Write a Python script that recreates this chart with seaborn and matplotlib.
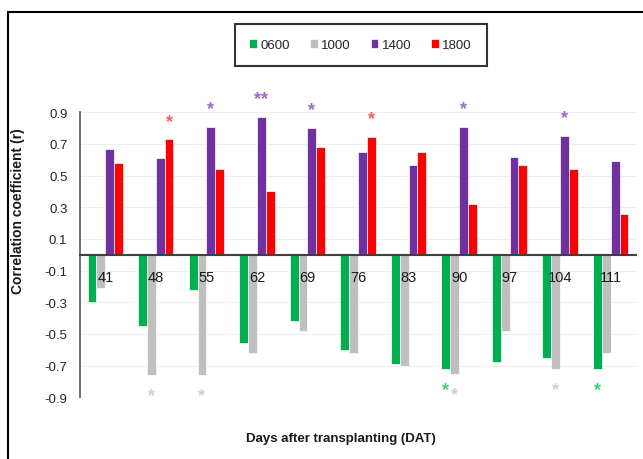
import pandas as pd
import matplotlib.pyplot as plt
import seaborn as sns
from matplotlib.patches import Rectangle

days = ['41', '48', '55', '62', '69', '76', '83', '90', '97', '104', '111']
times = ['0600', '1000', '1400', '1800']
r_0600 = [-0.30, -0.45, -0.22, -0.56, -0.42, -0.60, -0.69, -0.72, -0.68, -0.65, -0.72]
r_1000 = [-0.21, -0.76, -0.76, -0.62, -0.48, -0.62, -0.70, -0.75, -0.48, -0.72, -0.62]
r_1400 = [0.67, 0.61, 0.81, 0.87, 0.80, 0.65, 0.57, 0.81, 0.62, 0.75, 0.59]
r_1800 = [0.58, 0.73, 0.54, 0.40, 0.68, 0.745, 0.65, 0.32, 0.57, 0.54, 0.26]
sig_0600 = ['', '', '', '', '', '', '', '*', '', '', '*']
sig_1000 = ['', '*', '*', '', '', '', '', '*', '', '*', '']
sig_1400 = ['', '', '*', '**', '*', '', '', '*', '', '*', '']
sig_1800 = ['', '*', '', '', '', '*', '', '', '', '', '']
yticks = [0.9, 0.7, 0.5, 0.3, 0.1, -0.1, -0.3, -0.5, -0.7, -0.9]
bar_colors = ['#00B050', '#BFBFBF', '#7030A0', '#FF0000']
star_colors = ['#3CCB7A', '#CFCFCF', '#9A6BCB', '#FF5C5C']

data = pd.DataFrame({'DAT': days, '0600': r_0600, '1000': r_1000, '1400': r_1400, '1800': r_1800})
data = data.melt(id_vars='DAT', var_name='Time', value_name='r')

sns.set_style('white')
plt.rcParams['font.family'] = ['Liberation Sans', 'DejaVu Sans']

fig = plt.figure(figsize=(6.43, 4.6), dpi=100)
ax = fig.add_axes([0.1244, 0.1341, 0.8647, 0.6196])
ax.set_axisbelow('line')

for t in yticks:
    ax.axhline(t, color='#EEEEEE', lw=0.8, zorder=0)

sns.barplot(data=data, x='DAT', y='r', hue='Time', order=days, hue_order=times,
            palette=bar_colors, saturation=1, width=0.7, edgecolor='white',
            linewidth=0.5, errorbar=None, ax=ax)

# significance stars
sigs = [sig_0600, sig_1000, sig_1400, sig_1800]
for cont, sig, col in zip(ax.containers, sigs, star_colors):
    for bar, s in zip(cont, sig):
        if not s:
            continue
        x = bar.get_x() + bar.get_width() / 2
        h = bar.get_height()
        off = 13 if h > 0 else -15
        ax.annotate(s, (x, h), xytext=(0, off), textcoords='offset points',
                    ha='center', va='center', color=col, fontsize=13,
                    fontweight='bold', annotation_clip=False)

ax.set_ylim(-0.9, 0.9)
ax.set_yticks(yticks)
ax.set_yticklabels([f'{t:.1f}' for t in yticks])
ax.tick_params(axis='y', length=0, pad=9, labelsize=9.5, labelcolor='#262626')
ax.tick_params(axis='x', length=0, pad=11, labelsize=10.5, labelcolor='#1a1a1a')

sns.despine(ax=ax, top=True, right=True)
ax.spines['bottom'].set_position(('data', 0))
ax.spines['bottom'].set_color('#404040')
ax.spines['bottom'].set_linewidth(1.5)
ax.spines['left'].set_color('#595959')
ax.spines['left'].set_linewidth(1.2)

ax.set_ylabel('Correlation coefficient (r)', fontsize=10, fontweight='bold', color='#1a1a1a')
ax.yaxis.set_label_coords(-0.099, 0.657)
ax.set_xlabel('Days after transplanting (DAT)', fontsize=9.5, fontweight='bold', color='#1a1a1a')
ax.xaxis.set_label_coords(0.470, -0.12)

handles, labels = ax.get_legend_handles_labels()
leg = ax.legend(handles, labels, loc='center', bbox_to_anchor=(0.561, 0.9),
                bbox_transform=fig.transFigure, ncol=4, frameon=True, fancybox=False,
                edgecolor='black', fontsize=9.5, handlelength=0.6, handleheight=0.6,
                handletextpad=0.25, columnspacing=1.5, borderpad=1.1, borderaxespad=0)
leg.get_frame().set_linewidth(1.5)

# outer border of the cropped chart
fig.add_artist(Rectangle((8 / 643, -0.1), 1.2, 1 - 13 / 460 + 0.1, transform=fig.transFigure,
                         fill=False, edgecolor='black', lw=1.5))

fig.savefig('out.png', dpi=100)
